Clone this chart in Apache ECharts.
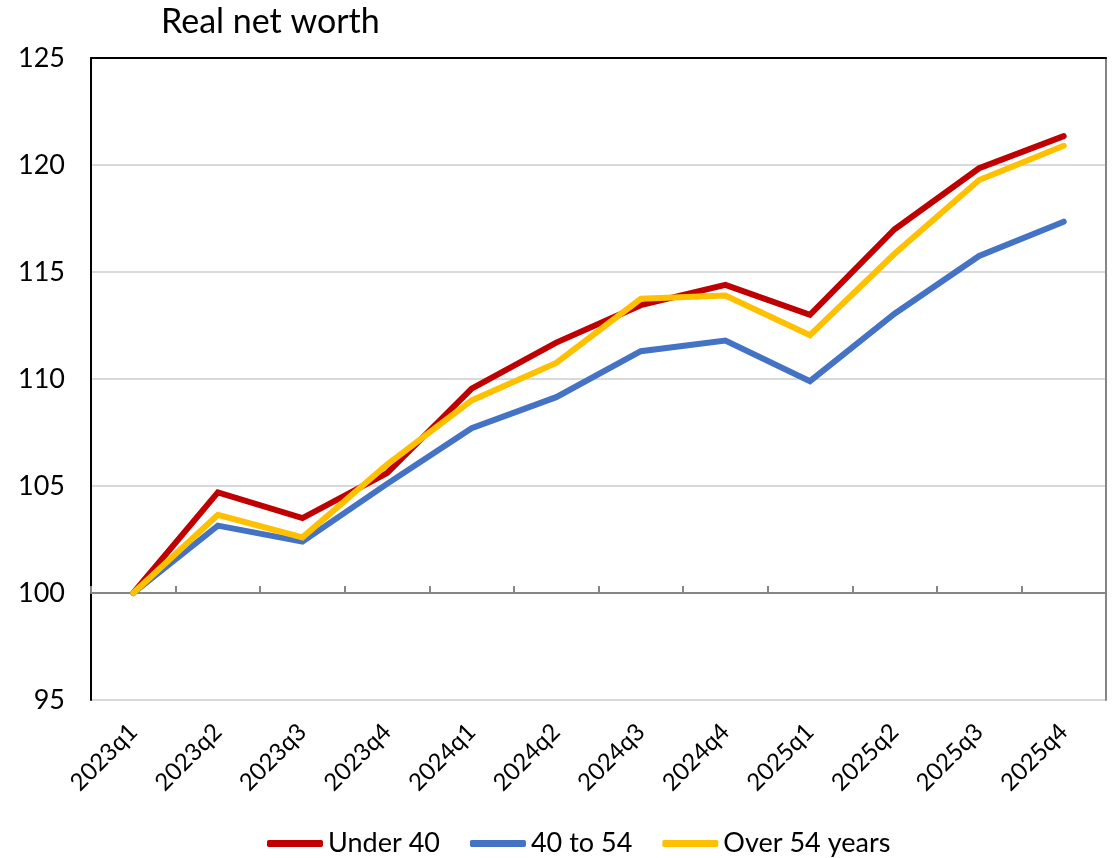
<!DOCTYPE html>
<html lang="en">
<head>
    <meta charset="UTF-8">
    <title>Real net worth</title>
    <script src="https://cdn.jsdelivr.net/npm/echarts@6/dist/echarts.min.js"></script>
    <style>
        html, body { margin: 0; padding: 0; background: #fff; }
    </style>
</head>
<body>

<div id="main" style="width: 1112px;height:858px;"></div>

<script type="text/javascript">
    var quarters = ['2023q1', '2023q2', '2023q3', '2023q4', '2024q1', '2024q2',
        '2024q3', '2024q4', '2025q1', '2025q2', '2025q3', '2025q4'];

    var under40 = [100, 104.7, 103.5, 105.6, 109.55, 111.7, 113.45, 114.4, 113.0, 117.0, 119.85, 121.35];
    var age40to54 = [100, 103.15, 102.4, 105.1, 107.7, 109.15, 111.3, 111.8, 109.9, 113.05, 115.75, 117.35];
    var over54 = [100, 103.65, 102.6, 106.0, 109.0, 110.75, 113.75, 113.9, 112.05, 115.85, 119.3, 120.9];

    var seriesNames = ['Under 40', '40 to 54', 'Over 54 years'];
    var seriesColors = ['#C00000', '#4472C4', '#FFC000'];

    var font = 'Lato, "Liberation Sans", sans-serif';

    var myChart = echarts.init(document.getElementById('main'));

    function lineSeries(i, data) {
        return {
            name: seriesNames[i],
            type: 'line',
            data: data,
            xAxisIndex: 0,
            symbol: 'none',
            smooth: false,
            lineStyle: {
                color: seriesColors[i],
                width: 6,
                cap: 'round',
                join: 'miter'
            },
            itemStyle: { color: seriesColors[i] },
            z: 3 + i
        };
    }

    var option = {
        animation: false,
        textStyle: { fontFamily: font },
        title: {
            text: 'Real net worth',
            left: 156,
            top: 0,
            textStyle: { fontFamily: font, fontSize: 34, fontWeight: 'normal', color: '#000' }
        },
        legend: {
            bottom: -4,
            left: 262,
            itemWidth: 56,
            itemHeight: 7,
            itemGap: 30,
            icon: 'roundRect',
            textStyle: { fontFamily: font, fontSize: 27, color: '#000' },
            data: seriesNames
        },
        grid: {
            left: 91,
            right: 6,
            top: 58,
            bottom: 158
        },
        xAxis: [{
            type: 'category',
            data: quarters,
            position: 'bottom',
            axisLine: { show: false },
            axisTick: { show: false },
            axisLabel: {
                rotate: 45,
                margin: 28,
                fontFamily: font,
                fontSize: 24,
                color: '#000'
            }
        }, {
            // horizontal axis crossing at 100
            type: 'category',
            data: quarters,
            position: 'bottom',
            offset: -107,
            axisLine: { show: true, lineStyle: { color: '#868686', width: 2 } },
            axisTick: { show: true, inside: true, length: 7, lineStyle: { color: '#868686', width: 2 } },
            axisLabel: { show: false }
        }, {
            // black top border
            type: 'category',
            data: quarters,
            position: 'top',
            axisLine: { show: true, lineStyle: { color: '#000', width: 2 } },
            axisTick: { show: false },
            axisLabel: { show: false }
        }],
        yAxis: [{
            type: 'value',
            min: 95,
            max: 125,
            interval: 5,
            axisLine: { show: true, lineStyle: { color: '#000', width: 2 } },
            axisTick: { show: false },
            axisLabel: {
                margin: 26,
                fontFamily: font,
                fontSize: 27,
                color: '#000'
            },
            splitLine: { show: true, lineStyle: { color: '#d9d9d9', width: 2 } }
        }, {
            // grey right border
            type: 'value',
            min: 95,
            max: 125,
            interval: 5,
            position: 'right',
            axisLine: { show: true, lineStyle: { color: '#868686', width: 2 } },
            axisTick: { show: false },
            axisLabel: { show: false },
            splitLine: { show: false }
        }],
        series: [
            lineSeries(0, under40),
            lineSeries(1, age40to54),
            lineSeries(2, over54)
        ]
    };

    myChart.setOption(option);
</script>
</body>
</html>
